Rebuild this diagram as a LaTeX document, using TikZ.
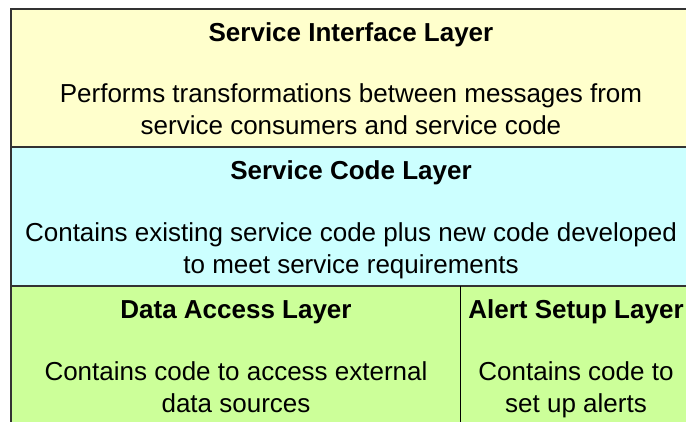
\documentclass[tikz,border=0pt]{standalone}
\usepackage{fontspec}
\setmainfont{Liberation Sans}
\definecolor{ifyellow}{HTML}{FFFFCC}
\definecolor{codecyan}{HTML}{CCFFFF}
\definecolor{accgreen}{HTML}{CCFF99}
\begin{document}
\begin{tikzpicture}[x=1pt, y=-1pt,
  layer/.style={draw=black!80, line width=1.5pt},
  title/.style={font=\bfseries\fontsize{26}{32}\selectfont},
  body/.style={align=center, font=\fontsize{26}{32}\selectfont}]
\useasboundingbox (0,0) rectangle (686,421);
% layers
\fill[white] (0,0) rectangle (686,421);
\draw[layer, fill=ifyellow] (11,9) rectangle (692,147);
\draw[layer, fill=codecyan] (11,147) rectangle (692,286);
\draw[layer, fill=accgreen] (11,286) rectangle (692,428);
\draw[black, line width=0.8pt] (460,286) -- (460,428);
% texts
\node[title] (iftitle) at (351,35) {Service Interface Layer};
\node[body] (iftext) at (351,114) {Performs transformations between messages from\\service consumers and service code\strut};
\node[title] (codetitle) at (351,173) {Service Code Layer};
\node[body] (codetext) at (351,253) {Contains existing service code plus new code developed\\to meet service requirements\strut};
\node[title] (datatitle) at (236,312) {Data Access Layer};
\node[body] (datatext) at (236,392) {Contains code to access external\\data sources\strut};
\node[title] (alerttitle) at (576,312) {Alert Setup Layer};
\node[body] (alerttext) at (576,392) {Contains code to\\set up alerts\strut};
\end{tikzpicture}
\end{document}
